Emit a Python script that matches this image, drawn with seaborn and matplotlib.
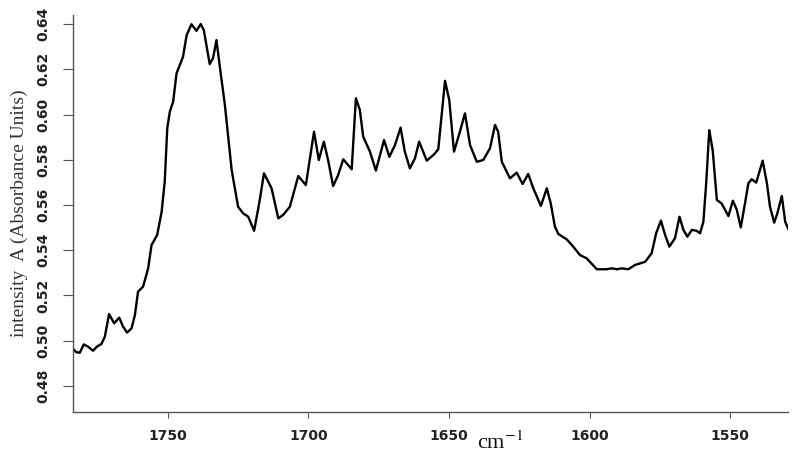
import matplotlib
matplotlib.use("Agg")
import matplotlib.pyplot as plt
import seaborn as sns
import pandas as pd
from matplotlib.ticker import MultipleLocator, FormatStrFormatter

sns.set_style("ticks")
plt.rcParams['font.family'] = ['DejaVu Sans']
plt.rcParams['mathtext.fontset'] = 'stix'

# wavenumber (cm-1) and absorbance
wavenumber = [1783.9, 1782.5, 1781.3, 1779.9, 1778.4, 1776.6, 1775.2, 1773.6, 1772.4, 1770.9,
              1769.1, 1767.3, 1765.9, 1764.5, 1762.9, 1761.7, 1760.6, 1758.8, 1757.0, 1755.8,
              1753.8, 1752.2, 1751.1, 1750.2, 1749.3, 1748.1, 1746.9, 1746.0, 1744.6, 1743.3,
              1741.6, 1739.8, 1738.3, 1737.2, 1735.1, 1733.9, 1732.7, 1731.5, 1729.7, 1727.3,
              1725.0, 1723.2, 1721.4, 1719.3, 1717.3, 1715.8, 1713.1, 1710.7, 1709.0, 1706.6,
              1703.6, 1700.9, 1698.0, 1696.3, 1694.5, 1693.0, 1691.2, 1689.4, 1687.6, 1684.6,
              1683.1, 1681.7, 1680.5, 1678.1, 1676.0, 1673.1, 1671.2, 1669.2, 1667.2, 1665.7,
              1663.9, 1662.1, 1660.6, 1657.9, 1655.3, 1653.8, 1651.4, 1649.9, 1648.2, 1646.1,
              1644.3, 1642.5, 1640.1, 1637.8, 1635.4, 1633.6, 1632.5, 1631.2, 1628.3, 1625.9,
              1623.8, 1621.8, 1620.0, 1617.3, 1615.2, 1613.8, 1612.3, 1611.1, 1608.1, 1605.8,
              1603.4, 1601.0, 1597.4, 1593.9, 1592.1, 1590.3, 1588.5, 1586.2, 1583.8, 1580.2,
              1577.9, 1576.3, 1574.6, 1573.1, 1571.6, 1569.6, 1568.0, 1566.6, 1565.2, 1563.6,
              1561.9, 1560.7, 1559.5, 1558.5, 1557.4, 1556.2, 1554.7, 1553.0, 1550.6, 1549.0,
              1547.6, 1546.2, 1544.7, 1543.5, 1542.3, 1540.7, 1538.4, 1536.9, 1535.8, 1534.3,
              1533.2, 1531.6, 1530.4, 1528.6]
absorbance = [0.4967, 0.4949, 0.4947, 0.4984, 0.4974, 0.4956, 0.4974, 0.4986, 0.5018, 0.5118,
              0.5077, 0.5102, 0.5062, 0.5036, 0.5055, 0.5114, 0.5217, 0.5239, 0.5320, 0.5423,
              0.5467, 0.5570, 0.5703, 0.5939, 0.6012, 0.6057, 0.6182, 0.6211, 0.6255, 0.6351,
              0.6399, 0.6370, 0.6400, 0.6373, 0.6223, 0.6250, 0.6329, 0.6211, 0.6042, 0.5755,
              0.5592, 0.5563, 0.5548, 0.5486, 0.5622, 0.5740, 0.5674, 0.5541, 0.5556, 0.5592,
              0.5728, 0.5688, 0.5924, 0.5799, 0.5880, 0.5799, 0.5684, 0.5733, 0.5802, 0.5758,
              0.6072, 0.6020, 0.5902, 0.5836, 0.5752, 0.5887, 0.5813, 0.5865, 0.5942, 0.5836,
              0.5762, 0.5806, 0.5880, 0.5796, 0.5824, 0.5846, 0.6149, 0.6064, 0.5836, 0.5924,
              0.6005, 0.5865, 0.5791, 0.5799, 0.5851, 0.5954, 0.5924, 0.5791, 0.5718, 0.5743,
              0.5693, 0.5737, 0.5674, 0.5596, 0.5674, 0.5607, 0.5504, 0.5472, 0.5448, 0.5416,
              0.5379, 0.5364, 0.5316, 0.5316, 0.5320, 0.5316, 0.5320, 0.5316, 0.5335, 0.5349,
              0.5387, 0.5475, 0.5531, 0.5467, 0.5416, 0.5453, 0.5548, 0.5490, 0.5460, 0.5490,
              0.5486, 0.5475, 0.5526, 0.5696, 0.5931, 0.5843, 0.5622, 0.5607, 0.5551, 0.5619,
              0.5578, 0.5501, 0.5607, 0.5696, 0.5714, 0.5699, 0.5796, 0.5696, 0.5592, 0.5522,
              0.5563, 0.5640, 0.5526, 0.5475]

df = pd.DataFrame({'wn': wavenumber, 'A': absorbance})

fig = plt.figure(figsize=(8, 4.61), dpi=100)
ax = fig.add_axes([0.091, 0.1063, 0.894, 0.8612])

sns.lineplot(data=df, x='wn', y='A', ax=ax, color='black', linewidth=1.7,
             estimator=None, sort=False)

ax.set_xlim(1783.8, 1529.4)
ax.set_ylim(0.4685, 0.644)
ax.xaxis.set_major_locator(MultipleLocator(50))
ax.yaxis.set_major_locator(MultipleLocator(0.02))
ax.yaxis.set_major_formatter(FormatStrFormatter('%.2f'))

ax.tick_params(axis='y', direction='out', length=7, width=0.8, pad=9,
               labelsize=10, color='#555555')
ax.tick_params(axis='x', direction='out', length=4, width=0.8, pad=8,
               labelsize=10, color='#555555')
for lab in ax.get_yticklabels():
    lab.set_rotation(90)
    lab.set_va('center')
    lab.set_fontweight('bold')
    lab.set_color('#222222')
for lab in ax.get_xticklabels():
    lab.set_fontweight('bold')
    lab.set_color('#222222')

sns.despine(ax=ax)
for s in ('left', 'bottom'):
    ax.spines[s].set_color('#555555')
    ax.spines[s].set_linewidth(1.0)

ax.set_xlabel('')
ax.set_ylabel('intensity  A (Absorbance Units)', family='Liberation Serif',
              fontsize=14, color='#333333', labelpad=6)
ax.text(0.598, -0.078, 'cm$^{-1}$', transform=ax.transAxes, ha='center', va='center',
        family='Liberation Serif', fontsize=16, color='#111111')

fig.savefig('out.png', dpi=100)
